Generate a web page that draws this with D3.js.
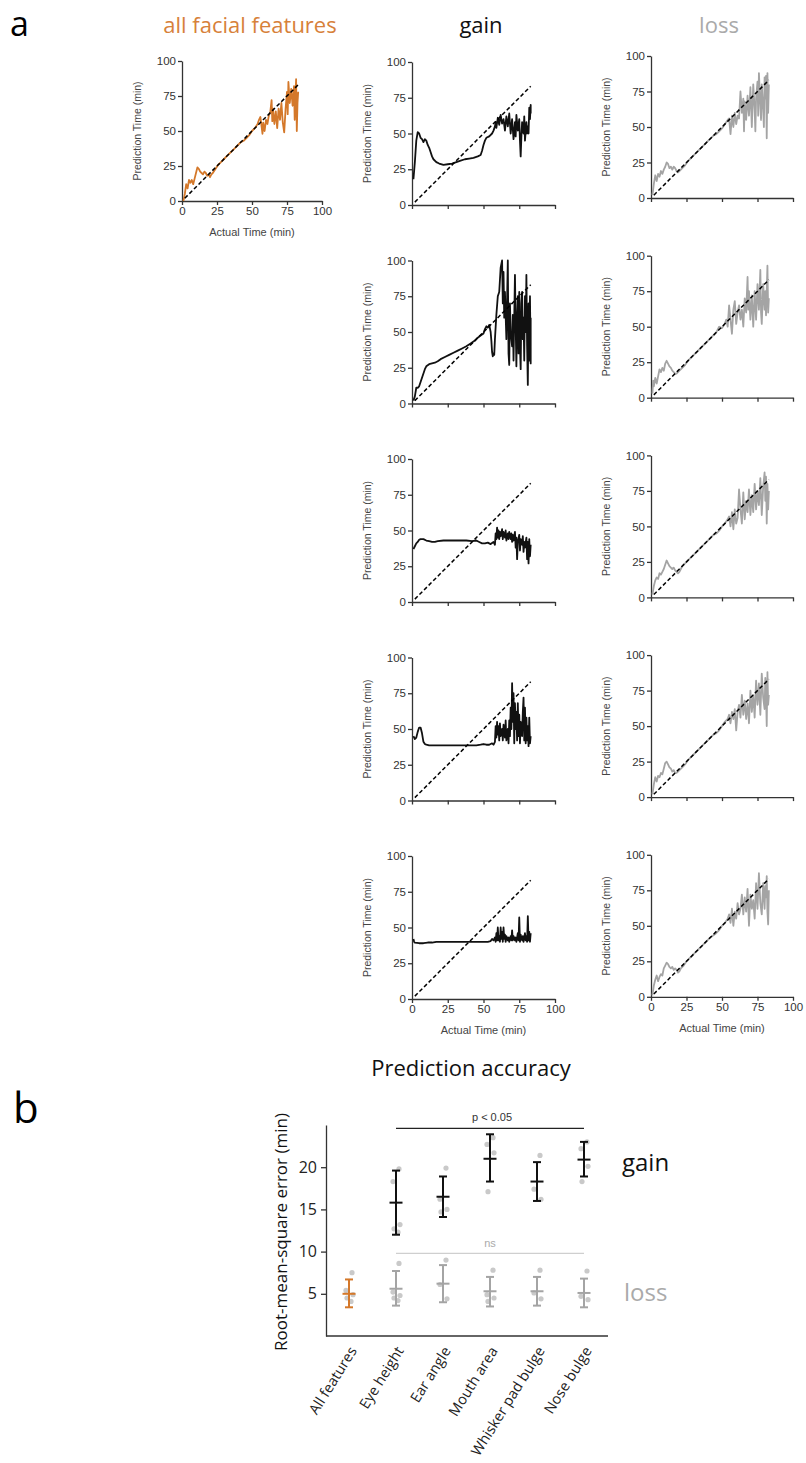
<!DOCTYPE html>
<html>
<head>
<meta charset="utf-8">
<script src="https://cdn.jsdelivr.net/npm/d3@7"></script>
<style>
body { margin: 0; background: #fff; }
svg { display: block; }
.axis path, .axis line { stroke: #333; stroke-width: 1.3px; }
.axis text { fill: #333; font-family: "Liberation Sans", Arial, sans-serif; font-size: 11.5px; }
.lbl { fill: #444; font-family: "Liberation Sans", Arial, sans-serif; font-size: 10.5px; }
.big { font-family: "Open Sans", "Noto Sans", sans-serif; }
</style>
</head>
<body>
<div id="fig"></div>
<script>
// ---- panel a data: [actual time, predicted time] ----
var identityLine = [2, 83];

var allFeatures = [[1,0],[2,5],[3,12],[4,9],[5,15],[6,13],[7,15],[8,12],[9,16],[10,20],[11,24],[12,23],[13,21],[14,20],[15,19],[16,21],[17,20],[18,18],[19,19],[20,17],[21,19],[22,20],[24,23],[26,26],[28,28],[30,30],[32,32],[34,34],[36,36],[38,38],[40,40],[42,42],[44,43],[46,45],[48,47],[50,50],[52,52],[54,55],[55,58],[56,60],[57,52],[57.5,48],[58,56],[59,50],[60,58],[61,55],[62,61],[63,63],[64,72],[64.5,57],[65,66],[66,55],[67,64],[68,52],[69,66],[70,58],[71,70],[72,56],[73,49],[74,66],[75,78],[75.5,62],[76,85],[77,70],[78,80],[79,68],[80,82],[80.5,58],[81,75],[81.5,87],[82,50],[82.5,70],[83,78]];

var gainEye = [[1,18],[2,30],[3,45],[4,51],[5,50],[6,47],[7,46],[8,44],[9,46],[10,45],[11,42],[12,40],[13,37],[14,34],[15,32],[17,30],[19,29],[22,28],[25,28.5],[28,29],[31,30],[34,31],[37,32],[40,32.5],[43,33],[46,34],[48,35],[49,38],[50,42],[51,45],[52,47],[54,48],[56,50],[57,52],[58,55],[58.5,58],[59,54],[60,61],[61,56],[62,63],[63,57],[64,60],[65,52],[66,62],[67,55],[68,64],[69,50],[70,60],[71,46],[72,58],[72.5,48],[73,63],[74,52],[75,60],[75.5,45],[76,34],[76.5,48],[77,58],[78,50],[78.5,62],[79,45],[80,58],[80.5,50],[81,55],[81.5,50],[82,68],[82.5,60],[83,70],[83,64]];
var gainEar = [[1,2],[2,5],[3,11],[4,11],[5,12],[6,15],[7,18],[8,21],[9,24],[10,26],[12,27.5],[14,28],[16,28.5],[18,29.5],[20,31],[23,32.5],[26,34],[29,35.5],[32,37],[35,38.5],[38,40],[41,42],[44,44],[46,46],[48,47.5],[50,49],[51,52],[52,54],[53,53],[54,55],[55,50],[55.5,44],[56,36],[56.5,33],[57,35],[57.5,34],[58,45],[59,62],[60,75],[61,78],[62,95],[63,100],[63.5,70],[64,92],[64.5,60],[65,78],[66,45],[67,100],[67.5,35],[68,27],[68.5,70],[69,50],[70,40],[70.5,62],[71,30],[72,90],[72.5,55],[73,26],[73.5,60],[74,75],[74.5,35],[75,78],[75.5,40],[76,24],[76.5,70],[77,78],[77.5,45],[78,60],[78.5,30],[79,75],[79.5,50],[80,90],[80.5,40],[81,13],[81.5,70],[82,30],[82.5,75],[83,28],[83,60]];
var gainMouth = [[1,37],[2,39],[3,41],[4,42],[5,43.5],[6,44],[8,44],[10,43],[12,42.5],[14,42],[16,42],[18,42.5],[22,43],[26,43],[30,43],[34,43],[38,43],[42,42.5],[45,43],[47,42],[49,41],[51,41],[53,41.5],[55,40.5],[57,42],[58,40],[58.5,48],[59,44],[59.5,52],[60,45],[60.5,50],[61,44],[61.5,49],[62,46],[63,51],[63.5,44],[64,49],[65,45],[65.5,50],[66,43],[67,48],[67.5,44],[68,49],[69,44],[69.5,48],[70,42],[70.5,47],[71,43],[72,49],[72.5,38],[73,45],[73.5,30],[74,42],[75,47],[75.5,36],[76,44],[77,40],[77.5,46],[78,35],[78.5,42],[79,38],[80,45],[80.5,30],[81,42],[81.5,27],[82,44],[82.5,32],[83,40]];
var gainWhisker = [[1,45],[2,43],[3,44],[4,48],[5,51],[6,51],[7,47],[8,41],[9,39.5],[10,39],[12,38.5],[15,38.5],[20,38.5],[25,38.5],[30,38.5],[35,38.5],[40,38.5],[45,38.5],[48,39],[50,39.5],[52,39],[54,39],[56,40],[57,39],[58,41],[58.5,52],[59,44],[59.5,55],[60,46],[60.5,52],[61,42],[61.5,54],[62,45],[63,50],[63.5,42],[64,53],[65,44],[65.5,56],[66,42],[67,50],[67.5,40],[68,56],[68.5,45],[69,65],[69.5,50],[70,82],[70.5,55],[71,75],[71.5,40],[72,68],[72.5,50],[73,62],[73.5,42],[74,68],[74.5,45],[75,60],[75.5,40],[76,55],[77,45],[77.5,62],[78,72],[78.5,42],[79,65],[79.5,40],[80,58],[80.5,42],[81,52],[81.5,38],[82,58],[82.5,40],[83,45]];
var gainNose = [[1,42],[1.5,40],[2,39.5],[5,39],[8,39],[11,39.5],[14,39.5],[17,40],[20,40],[25,40],[30,40],[35,40],[40,40],[45,40],[50,40],[53,40],[55,40.5],[56,42],[57,41],[58,43],[58.5,40],[59,46],[59.5,41],[60,50],[60.5,41],[61,44],[61.5,40],[62,50],[62.5,42],[63,47],[63.5,40],[64,50],[64.5,42],[65,45],[65.5,40],[66,44],[67,41],[67.5,43],[68,40],[69,44],[69.5,41],[70,48],[70.5,41],[71,44],[72,41],[72.5,43],[73,40],[74,46],[74.5,41],[75,57],[75.5,40],[76,45],[77,41],[77.5,44],[78,40],[79,46],[79.5,41],[80,44],[80.5,40],[81,58],[81.5,41],[82,47],[82.5,40],[83,46]];

var lossEye = [[1,2],[2,10],[3,16],[4,12],[5,17],[6,15],[7,19],[8,17],[9,20],[10,22],[11,25],[12,24],[13,21],[14,22],[15,20],[16,22],[17,21],[18,19],[19,18],[20,19],[22,21],[24,23],[26,26],[28,28],[30,30],[32,32],[34,34],[36,36],[38,38],[40,40],[42,42],[44,44],[46,45],[48,47],[50,49],[52,52],[54,55],[55,56],[56,45],[57,58],[58,50],[59,60],[60,52],[61,58],[62,56],[63,75],[64,60],[65,70],[65.5,47],[66,68],[67,55],[68,72],[69,58],[70,78],[71,50],[72,80],[73,62],[73.5,47],[74,70],[75,82],[75.5,58],[76,88],[77,65],[77.5,55],[78,80],[79,62],[79.5,50],[80,85],[80.5,70],[81,86],[81.5,42],[82,88],[82.5,60],[83,80]];
var lossEar = [[1,3],[1.5,12],[2,8],[3,14],[4,10],[5,15],[6,20],[7,18],[8,21],[9,19],[10,24],[11,26],[12,24],[13,22],[14,21],[15,19],[16,18],[17,17],[18,17],[19,18],[20,19],[22,21],[24,23],[26,26],[28,28],[30,30],[32,32],[34,34],[36,36],[38,38],[40,40],[42,42],[44,44],[46,46],[48,50],[50,49],[52,52],[53,55],[54,50],[55,65],[56,55],[57,45],[58,62],[59,68],[60,52],[61,60],[62,65],[63,55],[64,62],[65,50],[66,70],[67,60],[68,85],[68.5,62],[69,75],[70,55],[71,72],[72,50],[73,75],[74,55],[75,80],[76,62],[77,90],[77.5,60],[78,52],[79,80],[80,62],[80.5,75],[81,58],[82,93],[82.5,60],[83,70]];
var lossMouth = [[1,2],[2,8],[3,12],[4,14],[5,13],[6,17],[7,16],[8,18],[9,20],[10,23],[11,26],[12,24],[13,22],[14,21],[15,20],[16,21],[17,19],[18,18],[19,17],[20,18],[21,20],[22,22],[24,24],[26,26],[28,28],[30,30],[32,32],[34,34],[36,36],[38,38],[40,40],[42,42],[44,44],[46,45],[48,47],[50,50],[52,52],[54,55],[55,57],[56,50],[57,60],[58,48],[59,62],[60,52],[61,56],[62,76],[63,62],[64,52],[65,74],[66,55],[67,68],[68,60],[69,76],[70,58],[71,72],[72,60],[73,80],[74,62],[75,75],[76,65],[77,84],[78,58],[79,78],[80,88],[80.5,68],[81,85],[81.5,52],[82,80],[82.5,62],[83,75]];
var lossWhisker = [[1,2],[2,9],[3,14],[4,11],[5,15],[6,14],[7,17],[8,16],[9,20],[10,24],[11,25],[12,23],[13,21],[14,20],[15,18],[16,19],[17,17],[18,17],[19,18],[20,19],[22,21],[24,23],[26,26],[28,28],[30,30],[32,32],[34,34],[36,36],[38,38],[40,40],[42,42],[44,44],[46,45],[48,47],[50,50],[52,53],[54,55],[55,58],[56,52],[57,60],[58,55],[59,62],[60,47],[61,60],[62,65],[63,56],[64,72],[65,58],[66,68],[67,55],[68,66],[69,52],[70,75],[71,60],[72,72],[73,56],[74,82],[75,65],[76,80],[77,58],[78,87],[79,70],[80,62],[80.5,84],[81,72],[81.5,50],[82,88],[82.5,65],[83,72]];
var lossNose = [[1,1],[2,8],[3,12],[4,15],[5,11],[6,14],[7,16],[8,15],[9,20],[10,22],[11,24],[12,23],[13,21],[14,20],[15,21],[16,19],[17,20],[18,19],[19,17],[20,18],[21,20],[23,22],[25,25],[27,27],[30,30],[33,33],[36,36],[39,39],[42,42],[45,44],[48,47],[50,50],[52,52],[54,55],[55,58],[56,52],[57,62],[58,50],[59,60],[60,55],[61,66],[62,58],[63,62],[64,72],[65,58],[66,70],[67,60],[68,76],[69,50],[70,72],[71,62],[72,68],[73,55],[74,80],[75,62],[76,87],[77,66],[78,58],[79,80],[80,62],[80.5,78],[81,70],[81.5,85],[82,60],[82.5,51],[83,75]];

var gainSeries = [gainEye, gainEar, gainMouth, gainWhisker, gainNose];
var lossSeries = [lossEye, lossEar, lossMouth, lossWhisker, lossNose];
var timeTicks = [0, 25, 50, 75, 100];

// ---- panel b data: RMSE (min) ----
var rmseCategories = ["All features", "Eye height", "Ear angle", "Mouth area", "Whisker pad bulge", "Nose bulge"];
var gainMean = [null, 15.8, 16.5, 21.0, 18.3, 20.9];
var gainLow  = [null, 12.0, 14.1, 18.3, 16.0, 18.9];
var gainHigh = [null, 19.6, 18.9, 23.9, 20.6, 23.0];
var gainPoints = [[], [19.8, 18.3, 13.2, 12.7, 12.3], [19.9, 16.2, 15.0, 14.7], [23.5, 22.7, 21.7, 17.1], [21.4, 17.4, 16.2], [23.0, 22.2, 20.1, 18.3]];
var lossMean = [5.0, 5.6, 6.2, 5.3, 5.3, 5.1];
var lossLow  = [3.4, 3.6, 4.0, 3.5, 3.6, 3.4];
var lossHigh = [6.7, 7.7, 8.4, 7.0, 7.0, 6.8];
var lossPoints = [[7.5, 5.4, 4.9, 4.5, 4.1], [8.6, 5.2, 4.8, 4.5, 4.2], [9.0, 6.1, 4.4], [7.8, 4.9, 4.5, 4.1], [7.8, 5.1, 4.4], [7.7, 4.7, 4.3]];
var rmseTicks = [5, 10, 15, 20];

var ORANGE = "#d4782a", GREY = "#a4a4a4", BLACK = "#111";

var svg = d3.select("#fig").append("svg")
	.attr("width", 806)
	.attr("height", 1463);

//draws one small prediction-vs-actual panel
function drawPanel(left, top, size, data, colour, showXLabels)
{
	var x = d3.scaleLinear().domain([0, 100]).range([left, left + size]);
	var y = d3.scaleLinear().domain([0, 100]).range([top + size, top]);
	var g = svg.append("g");

	var xAxis = d3.axisBottom(x).tickValues(timeTicks).tickSize(4).tickSizeOuter(0).tickPadding(2);
	if (!showXLabels) xAxis.tickFormat("");
	g.append("g").attr("class", "axis")
		.attr("transform", "translate(0," + (top + size) + ")")
		.call(xAxis);
	g.append("g").attr("class", "axis")
		.attr("transform", "translate(" + left + ",0)")
		.call(d3.axisLeft(y).tickValues(timeTicks).tickSize(4).tickSizeOuter(0).tickPadding(2));

	var line = d3.line().x(function(d) { return x(d[0]); }).y(function(d) { return y(d[1]); });
	g.append("path").datum(data)
		.attr("d", line)
		.attr("fill", "none")
		.attr("stroke", colour)
		.attr("stroke-width", 1.8)
		.attr("stroke-linejoin", "round");

	g.append("path").datum([[identityLine[0], identityLine[0]], [identityLine[1], identityLine[1]]])
		.attr("d", line)
		.attr("fill", "none")
		.attr("stroke", "#000")
		.attr("stroke-width", 1.5)
		.attr("stroke-dasharray", "4,2.5");

	g.append("text").attr("class", "lbl")
		.attr("transform", "translate(" + (left - 41) + "," + (top + size / 2) + ") rotate(-90)")
		.attr("text-anchor", "middle")
		.text("Prediction Time (min)");
	if (showXLabels) {
		g.append("text").attr("class", "lbl")
			.attr("x", left + size / 2).attr("y", top + size + 35)
			.attr("text-anchor", "middle")
			.style("font-size", "11px")
			.text("Actual Time (min)");
	}
}

drawPanel(182, 61, 140, allFeatures, ORANGE, true);
for (var i = 0; i < 5; i++) {
	drawPanel(412, 62 + i * 198.5, 143, gainSeries[i], BLACK, i == 4);
	drawPanel(651, 56 + i * 199.7, 142, lossSeries[i], GREY, i == 4);
}

// titles
svg.append("text").attr("class", "big").attr("x", 10).attr("y", 36).style("font-size", "34px").text("a");
svg.append("text").attr("class", "big").attr("x", 250).attr("y", 33).attr("text-anchor", "middle")
	.style("font-size", "22px").style("fill", "#d7813a").text("all facial features");
svg.append("text").attr("class", "big").attr("x", 481).attr("y", 33).attr("text-anchor", "middle")
	.style("font-size", "22px").style("fill", "#111").text("gain");
svg.append("text").attr("class", "big").attr("x", 719).attr("y", 33).attr("text-anchor", "middle")
	.style("font-size", "22px").style("fill", "#aaa").text("loss");

// ---- panel b ----
svg.append("text").attr("class", "big").attr("x", 13).attr("y", 1123).style("font-size", "42px").text("b");
svg.append("text").attr("class", "big").attr("x", 471).attr("y", 1076).attr("text-anchor", "middle")
	.style("font-size", "22px").style("fill", "#111").text("Prediction accuracy");

var bx = d3.scalePoint().domain(rmseCategories).range([349, 584]);
var by = d3.scaleLinear().domain([0, 25]).range([1336, 1125]);

var b = svg.append("g");
b.append("line").attr("x1", 326).attr("x2", 608).attr("y1", by(0)).attr("y2", by(0))
	.attr("stroke", "#333").attr("stroke-width", 1.3);
var yAx = b.append("g").attr("class", "axis")
	.attr("transform", "translate(326,0)")
	.call(d3.axisLeft(by).tickValues(rmseTicks).tickSize(5).tickSizeOuter(0).tickPadding(4));
yAx.selectAll("text").style("font-family", "'Open Sans', sans-serif").style("font-size", "16px").style("fill", "#222");

b.append("text").attr("class", "big")
	.attr("transform", "translate(287,1232) rotate(-90)")
	.attr("text-anchor", "middle")
	.style("font-size", "17px").style("fill", "#111")
	.text("Root-mean-square error (min)");

b.selectAll("text.cat").data(rmseCategories).enter().append("text")
	.attr("class", "big cat")
	.attr("transform", function(d) { return "translate(" + (bx(d) + 4) + ",1348) rotate(-58)"; })
	.attr("text-anchor", "end")
	.attr("dy", "0.35em")
	.style("font-size", "14.5px").style("fill", "#222")
	.text(function(d) { return d; });

var jitter = [3, -3, 4, -2, 2];

function drawGroup(means, lows, highs, points, colourOf)
{
	rmseCategories.forEach(function(c, i) {
		if (means[i] == null) return;
		var cx = bx(c);
		points[i].forEach(function(v, j) {
			b.append("circle").attr("cx", cx + jitter[j % 5]).attr("cy", by(v)).attr("r", 2.6)
				.attr("fill", "#c9c9c9");
		});
		var col = colourOf(i);
		b.append("line").attr("x1", cx).attr("x2", cx).attr("y1", by(lows[i])).attr("y2", by(highs[i]))
			.attr("stroke", col).attr("stroke-width", 2);
		[lows[i], highs[i]].forEach(function(v) {
			b.append("line").attr("x1", cx - 4).attr("x2", cx + 4).attr("y1", by(v)).attr("y2", by(v))
				.attr("stroke", col).attr("stroke-width", 2);
		});
		b.append("line").attr("x1", cx - 6.5).attr("x2", cx + 6.5).attr("y1", by(means[i])).attr("y2", by(means[i]))
			.attr("stroke", col).attr("stroke-width", 2);
	});
}

drawGroup(lossMean, lossLow, lossHigh, lossPoints, function(i) { return i == 0 ? ORANGE : GREY; });
drawGroup(gainMean, gainLow, gainHigh, gainPoints, function() { return BLACK; });

// significance bars
b.append("line").attr("x1", bx("Eye height")).attr("x2", bx("Nose bulge"))
	.attr("y1", by(24.6)).attr("y2", by(24.6)).attr("stroke", "#222").attr("stroke-width", 1.3);
b.append("text").attr("x", (bx("Eye height") + bx("Nose bulge")) / 2 + 2).attr("y", by(24.6) - 7)
	.attr("text-anchor", "middle").attr("class", "lbl").style("font-size", "11px").style("fill", "#333")
	.text("p < 0.05");
b.append("line").attr("x1", bx("Eye height")).attr("x2", bx("Nose bulge"))
	.attr("y1", by(9.8)).attr("y2", by(9.8)).attr("stroke", "#cfcfcf").attr("stroke-width", 1.3);
b.append("text").attr("x", (bx("Eye height") + bx("Nose bulge")) / 2).attr("y", by(9.8) - 6)
	.attr("text-anchor", "middle").attr("class", "lbl").style("font-size", "11px").style("fill", "#aaa")
	.text("ns");

b.append("text").attr("class", "big").attr("x", 622).attr("y", 1171)
	.style("font-size", "24px").style("fill", "#111").text("gain");
b.append("text").attr("class", "big").attr("x", 624).attr("y", 1301)
	.style("font-size", "24px").style("fill", "#aaa").text("loss");
</script>
</body>
</html>
